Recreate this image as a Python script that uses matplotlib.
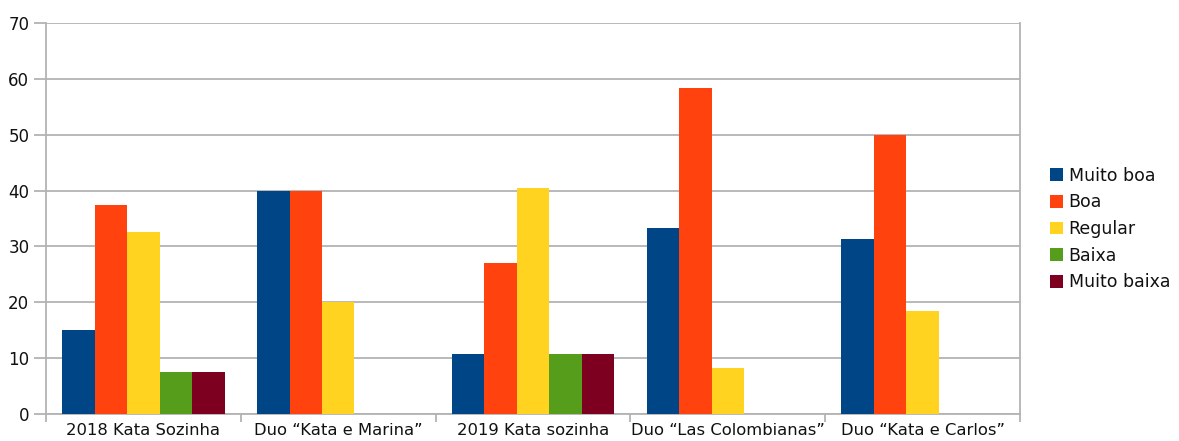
import matplotlib
matplotlib.use("Agg")
import matplotlib.pyplot as plt
import numpy as np

categories = ["2018 Kata Sozinha", "Duo \u201cKata e Marina\u201d", "2019 Kata sozinha",
              "Duo \u201cLas Colombianas\u201d", "Duo \u201cKata e Carlos\u201d"]
series_names = ["Muito boa", "Boa", "Regular", "Baixa", "Muito baixa"]
muito_boa = [15.1, 40.0, 10.8, 33.3, 31.4]
boa = [37.5, 40.0, 27.0, 58.3, 50.0]
regular = [32.6, 20.0, 40.5, 8.3, 18.4]
baixa = [7.6, 0, 10.8, 0, 0]
muito_baixa = [7.6, 0, 10.8, 0, 0]
colors = ["#004586", "#ff420e", "#ffd320", "#579d1c", "#7e0021"]
y_ticks = [0, 10, 20, 30, 40, 50, 60, 70]

plt.rcParams["font.family"] = ["DejaVu Sans"]

fig = plt.figure(figsize=(11.79, 4.41), dpi=100)
ax = fig.add_axes([46 / 1179, 1 - 414 / 441, (1020 - 46) / 1179, (414 - 23) / 441])

grid_c = "#b3b3b3"
x = np.arange(len(categories))
w = 1 / 6
all_series = [muito_boa, boa, regular, baixa, muito_baixa]
for i, (name, vals, c) in enumerate(zip(series_names, all_series, colors)):
    ax.bar(x + (i - 2) * w, vals, width=w, color=c, label=name, zorder=3,
           linewidth=0)

ax.set_xlim(-0.5, len(categories) - 0.5)
ax.set_ylim(0, 70)
ax.set_yticks(y_ticks)
ax.yaxis.grid(True, color=grid_c, linewidth=1.3, zorder=0)
ax.set_axisbelow(True)

ax.set_xticks(x)
ax.set_xticklabels(categories, fontsize=11.8)
ax.set_xticks(np.arange(-0.5, len(categories)), minor=True)
ax.tick_params(axis="x", which="major", length=0, pad=6.5, colors="#111111")
ax.tick_params(axis="x", which="minor", length=6, width=1.3, color=grid_c)
ax.tick_params(axis="y", length=9, width=1.3, color=grid_c, labelsize=12, pad=3,
               labelcolor="#111111")

for s in ["left", "right", "bottom"]:
    ax.spines[s].set_color(grid_c)
    ax.spines[s].set_linewidth(1.3)
ax.spines["top"].set_visible(False)

leg = fig.legend(loc="center left", bbox_to_anchor=(1034 / 1179, 1 - 229 / 441),
                 frameon=False, fontsize=12.5, handlelength=0.75, handleheight=0.75,
                 handletextpad=0.35, labelspacing=0.5, labelcolor="#111111")

fig.savefig("out.png", dpi=100)
